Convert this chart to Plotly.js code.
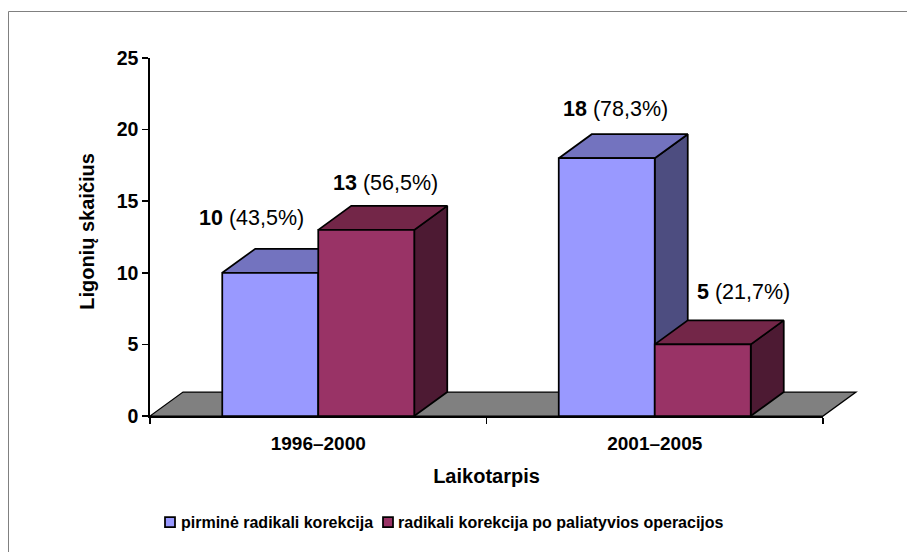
<!DOCTYPE html>
<html><head><meta charset="utf-8">
<script src="https://cdn.plot.ly/plotly-3.0.1.min.js"></script>
<style>html,body{margin:0;padding:0;background:#fff}#c{width:907px;height:552px}</style>
</head><body><div id="c"></div>
<script>
// ---- data ----
const categories = ['1996–2000', '2001–2005'];
const seriesNames = ['pirminė radikali korekcija', 'radikali korekcija po paliatyvios operacijos'];
const primary = [10, 18];
const afterPalliative = [13, 5];
const primaryPct = ['43,5%', '78,3%'];
const afterPalliativePct = ['56,5%', '21,7%'];
const yTicks = [0, 5, 10, 15, 20, 25];

// ---- style ----
const colors = {front: ['#9999FF', '#993366'], top: ['#7373BF', '#732648'], side: ['#4D4D80', '#4D1A33']};
const FONT = 'Liberation Sans, Arial, sans-serif';
const LW = 1.75;
const L = 150, T = 58, B = 416, R = 823;
const pw = R - L, ph = B - T;
const pxPerCat = pw / 2, pxPerUnit = ph / 25;
const depthX = 33 / pxPerCat, depthY = 24 / pxPerUnit;
const barW = 96 / pxPerCat;
const catX = [0.5, 1.5];
const labelShift = [[-19, 55], [9, 49], [19, 47], [41, 52]];
const yr = [0, 25], xr = [0, 2];

const traces = [];
function poly(xs, ys, fill, lw) {
  return {type: 'scatter', mode: 'lines', x: xs, y: ys, fill: 'toself', fillcolor: fill, cliponaxis: false,
    line: {color: '#000', width: lw || LW}, hoverinfo: 'skip', showlegend: false, xaxis: 'x', yaxis: 'y'};
}
const all = [primary, afterPalliative];
catX.forEach((cx, c) => {
  all.forEach((vals, s) => {
    const x0 = cx + (s - 1) * barW, x1 = x0 + barW, v = vals[c];
    traces.push(poly([x1, x1 + depthX, x1 + depthX, x1, x1], [0, depthY, v + depthY, v, 0], colors.side[s]));
    traces.push(poly([x0, x1, x1 + depthX, x0 + depthX, x0], [v, v, v + depthY, v + depthY, v], colors.top[s]));
  });
});
all.forEach((vals, s) => traces.push({type: 'bar', name: seriesNames[s], x: catX, y: vals, width: barW,
  offset: (s - 1) * barW, marker: {color: colors.front[s], line: {color: '#000', width: LW}},
  xaxis: 'x2', yaxis: 'y2', showlegend: false}));

const annotations = [];
[[primary, primaryPct, 0], [afterPalliative, afterPalliativePct, 1]].forEach(([vals, pct, s]) => {
  vals.forEach((v, c) => {
    const sh = labelShift[s * 2 + c];
    annotations.push({xref: 'x', yref: 'y', x: catX[c] + (s - 0.5) * barW, y: v, xanchor: 'center', yanchor: 'middle',
      xshift: sh[0], yshift: sh[1], showarrow: false, text: '<b>' + v + '</b> (' + pct[c] + ')',
      font: {family: FONT, size: 21.5, color: '#000'}});
  });
});
// legend
const legendX = [165, 383], legendTextX = [179, 396], legendY = 522;
const shapes = [];
seriesNames.forEach((n, s) => {
  annotations.push({xref: 'paper', yref: 'paper', x: (legendTextX[s] - L) / pw, y: (B - legendY) / ph, xanchor: 'left', yanchor: 'middle',
    showarrow: false, text: '<b>' + n + '</b>', font: {family: FONT, size: 16, color: '#000'}});
  shapes.push({type: 'rect', xref: 'paper', yref: 'paper', x0: (legendX[s] - L) / pw, x1: (legendX[s] + 10 - L) / pw,
    y0: (B - legendY - 5) / ph, y1: (B - legendY + 5) / ph, fillcolor: colors.front[s], line: {color: '#000', width: LW}});
});
// frame (top and left edges)
shapes.push({type: 'path', xref: 'paper', yref: 'paper', layer: 'below',
  path: `M${(8.5 - L) / pw},${(B - 552) / ph} L${(8.5 - L) / pw},${(B - 11.5) / ph} L${(907 - L) / pw},${(B - 11.5) / ph}`,
  line: {color: '#808080', width: 1}});
// floor: plot-fraction coordinates so its depth can extend past the axis end
const fx = v => (v - xr[0]) / (xr[1] - xr[0]), fy = v => (v - yr[0]) / (yr[1] - yr[0]);
shapes.push({type: 'path', xref: 'paper', yref: 'paper', layer: 'below',
  path: `M${fx(0)},${fy(0)} L${fx(2)},${fy(0)} L${fx(2 + depthX)},${fy(depthY)} L${fx(depthX)},${fy(depthY)} Z`,
  fillcolor: '#808080', line: {color: '#000', width: 1.25}});

Plotly.newPlot('c', traces, {
  width: 907, height: 552, showlegend: false, paper_bgcolor: '#fff', plot_bgcolor: 'rgba(0,0,0,0)',
  margin: {l: L, t: T, r: 907 - R, b: 552 - B, pad: 0},
  font: {family: FONT, color: '#000'},
  barmode: 'overlay',
  xaxis: {range: xr, showgrid: false, zeroline: false, showline: true, linecolor: '#000', linewidth: LW,
    tickmode: 'array', tickvals: catX, ticktext: categories,
    ticks: '', tickfont: {size: 19, family: FONT, weight: 'bold'}, ticklabelstandoff: 9,
    minor: {tickmode: 'array', tickvals: [0, 1, 2], ticks: 'outside', ticklen: 6, tickwidth: LW, tickcolor: '#000', showgrid: false},
    title: {text: '<b>Laikotarpis</b>', font: {size: 20, family: FONT}, standoff: 16}},
  yaxis: {range: yr, showgrid: false, zeroline: false, showline: true, linecolor: '#000', linewidth: LW, tickmode: 'array', tickvals: yTicks,
    ticks: 'outside', ticklen: 6, tickwidth: LW, tickcolor: '#000', tickfont: {size: 19.5, family: FONT, weight: 'bold'},
    title: {text: '<b>&nbsp;&nbsp;Ligonių skaičius</b>', font: {size: 20, family: FONT}, standoff: 17}},
  xaxis2: {range: xr, overlaying: 'x', visible: false},
  yaxis2: {range: yr, overlaying: 'y', visible: false},
  shapes, annotations
}, {displayModeBar: false, staticPlot: true});
</script></body></html>
